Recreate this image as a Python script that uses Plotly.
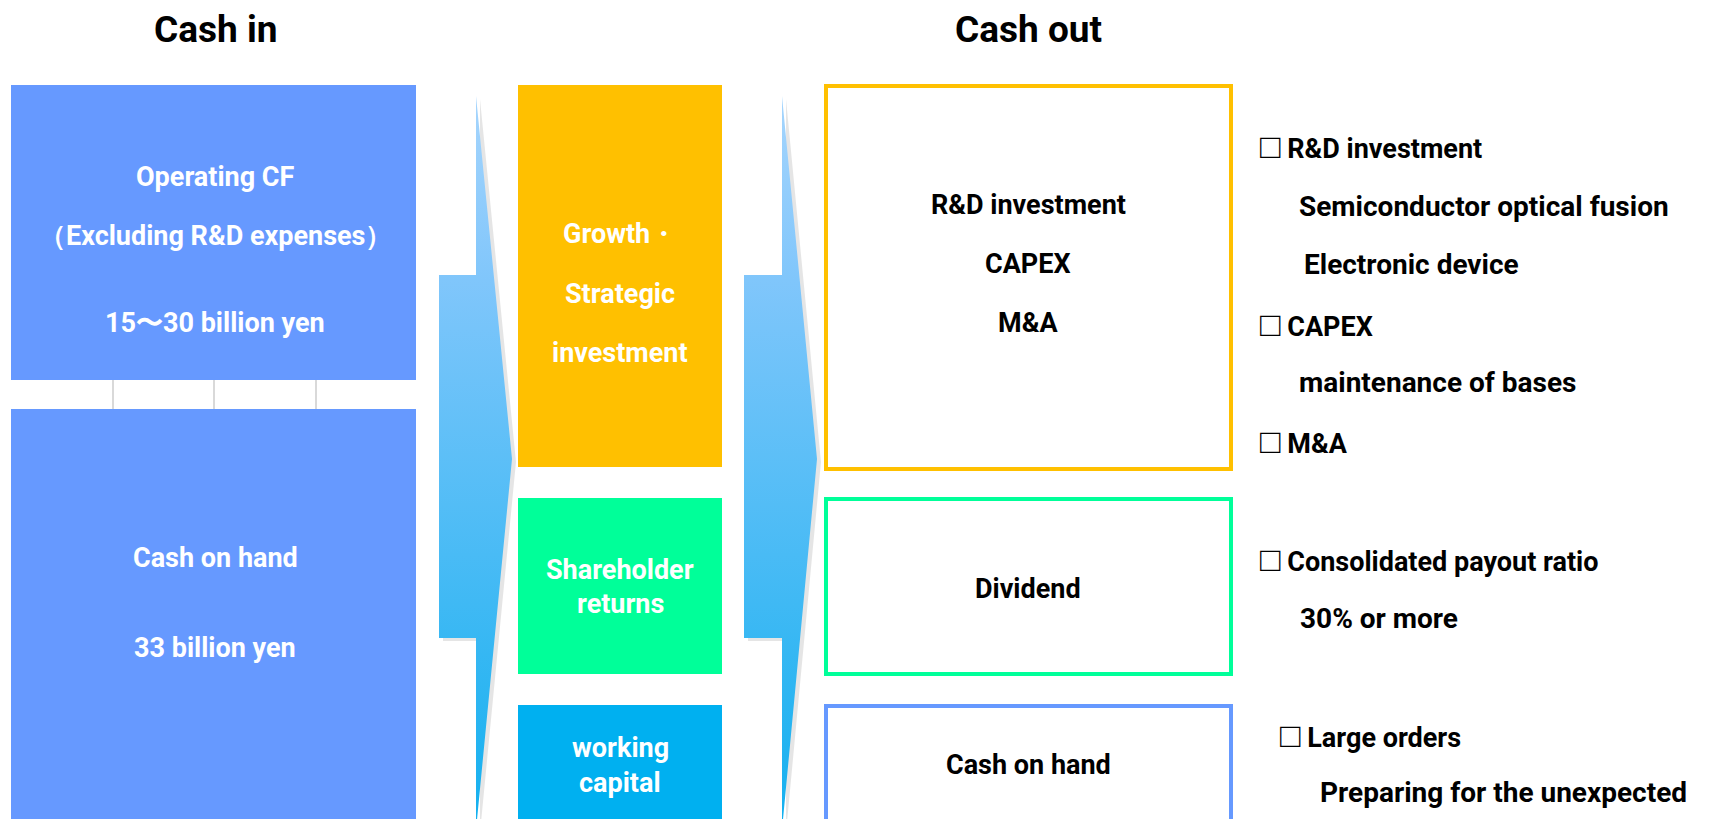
import plotly.graph_objects as go

W, H = 1713, 819
FONT = "Liberation Sans Narrow, Arial Narrow, Roboto, sans-serif"

# Text content
headers = ["Cash in", "Cash out"]
cash_in_top = ["Operating CF", "（Excluding R&D expenses）", "15〜30 billion yen"]
cash_in_bottom = ["Cash on hand", "33 billion yen"]
uses = [["Growth・", "Strategic", "investment"], ["Shareholder", "returns"], ["working", "capital"]]
cash_out = [["R&D investment", "CAPEX", "M&A"], ["Dividend"], ["Cash on hand"]]
notes = [
    "□ R&D investment", "Semiconductor optical fusion", "Electronic device",
    "□ CAPEX", "maintenance of bases", "□ M&A",
    "□ Consolidated payout ratio", "30% or more",
    "□ Large orders", "Preparing for the unexpected",
]

COLORS = {
    "blue": "#6699FF",
    "yellow": "#FFC000",
    "green": "#00FF99",
    "cyan": "#00B0F0",
}

fig = go.Figure()
shapes = []
annotations = []


def text(x, y, s, color="black", size=27, anchor="center"):
    if s.startswith("□ "):
        s = "<span style='font-size:34px;font-weight:normal'>□</span> " + s[2:]
    annotations.append(dict(
        x=x, y=y, text="<b>%s</b>" % s, showarrow=False, xref="x", yref="y",
        xanchor=anchor, yanchor="middle",
        font=dict(family=FONT, size=size, color=color),
    ))


def rect(x0, y0, x1, y1, fill=None, line=None, width=0):
    shapes.append(dict(
        type="rect", xref="x", yref="y", x0=x0, y0=y0, x1=x1, y1=y1,
        fillcolor=fill or "rgba(0,0,0,0)",
        line=dict(color=line or "rgba(0,0,0,0)", width=width),
        layer="below",
    ))


# headers
text(215, 29, headers[0], size=37)
text(1028, 29, headers[1], size=37)

# cash in boxes
rect(11, 85, 416, 380, fill=COLORS["blue"])
rect(11, 409, 416, 830, fill=COLORS["blue"])
for gx in [113, 214, 316]:
    shapes.append(dict(type="line", xref="x", yref="y", x0=gx, x1=gx, y0=380, y1=409,
                       line=dict(color="#D9D9D9", width=2)))
for s, y in zip(cash_in_top, [177, 236, 323]):
    text(215, y, s, color="white")
for s, y in zip(cash_in_bottom, [558, 648]):
    text(215, y, s, color="white")


# arrows
def arrow(xs, xr, tip):
    px = [xs, tip, xs, xs, xr, xr, xs, xs]
    py = [96, 459, 830, 638, 638, 275, 275, 96]
    fig.add_trace(go.Scatter(
        x=[p + 4 for p in px], y=[p + 3 for p in py], mode="lines", fill="toself",
        fillcolor="rgba(0,0,0,0.10)", line=dict(width=0), hoverinfo="skip",
    ))
    fig.add_trace(go.Scatter(
        x=px, y=py, mode="lines", fill="toself", line=dict(width=0),
        fillgradient=dict(type="vertical", colorscale=[[0, "#12B0EF"], [0.75, "#80C6FB"], [1, "#A6D5FD"]]),
        hoverinfo="skip",
    ))


arrow(476, 439, 512)
arrow(782, 744, 817)

# uses boxes
mid_boxes = [(85, 467, COLORS["yellow"]), (498, 674, COLORS["green"]), (705, 830, COLORS["cyan"])]
mid_text_y = [[234, 294, 353], [570, 604], [748, 783]]
for (y0, y1, c), lines, ys in zip(mid_boxes, uses, mid_text_y):
    rect(518, y0, 722, y1, fill=c)
    for s, y in zip(lines, ys):
        text(620, y, s, color="white")

# cash out boxes
out_boxes = [(86, 469, COLORS["yellow"]), (499, 674, COLORS["green"]), (706, 830, COLORS["blue"])]
out_text_y = [[205, 264, 323], [589], [765]]
for (y0, y1, c), lines, ys in zip(out_boxes, cash_out, out_text_y):
    rect(826, y0, 1231, y1, line=c, width=4)
    for s, y in zip(lines, ys):
        text(1028, y, s)

# notes
note_pos = [(1258, 146), (1297, 206), (1302, 264), (1258, 324), (1297, 382), (1258, 441),
            (1258, 559), (1298, 618), (1278, 735), (1318, 792)]
for s, (x, y) in zip(notes, note_pos):
    text(x, y, s, anchor="left", size=28 if not s.startswith("□") else 27)

fig.update_layout(
    width=W, height=H, margin=dict(l=0, r=0, t=0, b=0),
    paper_bgcolor="white", plot_bgcolor="white", showlegend=False,
    xaxis=dict(range=[0, W], visible=False, fixedrange=True),
    yaxis=dict(range=[H, 0], visible=False, fixedrange=True),
    shapes=shapes, annotations=annotations,
)

fig.write_html("out.html", config={"displayModeBar": False},
               post_script="document.body.style.margin='0';")
